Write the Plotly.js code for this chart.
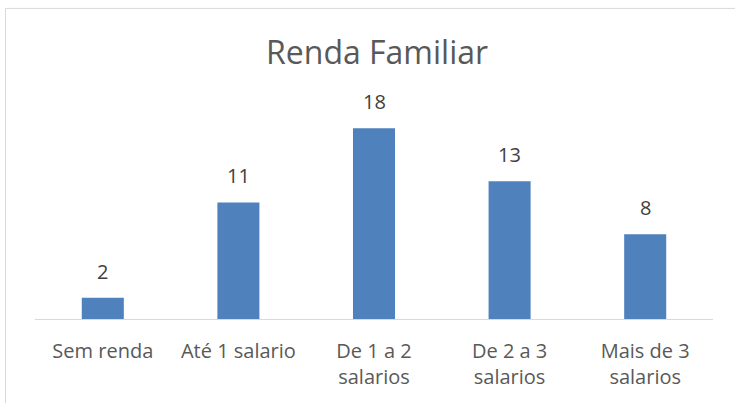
<!DOCTYPE html>
<html>
<head>
<meta charset="utf-8">
<script src="https://cdn.plot.ly/plotly-3.0.1.min.js"></script>
<style>html,body{margin:0;padding:0;background:#fff;}#chart{width:735px;height:403px;}</style>
</head>
<body>
<div id="chart"></div>
<script>
const categories = ["Sem renda", "Até 1 salario", "De 1 a 2<br>salarios", "De 2 a 3<br>salarios", "Mais de 3<br>salarios"];
const values = [2, 11, 18, 13, 8];
const chartTitle = "Renda Familiar";

const font = "Open Sans, Noto Sans, sans-serif";
const textColor = "#595959";

const trace = {
  type: "bar",
  x: categories,
  y: values,
  marker: {color: "#4F81BD"},
  hoverinfo: "none"
};

const annotations = categories.map((c, i) => ({
  x: c, y: values[i], xref: "x", yref: "y",
  text: String(values[i]), showarrow: false,
  yanchor: "bottom", yshift: 11,
  font: {family: font, size: 20, color: "#404040"}
}));

const layout = {
  width: 735, height: 403,
  margin: {l: 35, r: 22, t: 107, b: 84},
  paper_bgcolor: "#fff", plot_bgcolor: "#fff",
  title: {text: chartTitle, x: 0.513, xanchor: "center", y: 0.87, yanchor: "middle",
          font: {family: font, size: 32, color: textColor}},
  bargap: 0.69,
  showlegend: false,
  xaxis: {
    showline: true, linecolor: "#d9d9d9", linewidth: 1,
    ticks: "", showgrid: false, zeroline: false,
    ticklabelstandoff: 14,
    tickfont: {family: font, size: 20, color: textColor},
    fixedrange: true
  },
  yaxis: {range: [0, 20], visible: false, showgrid: false, zeroline: false, fixedrange: true},
  annotations: annotations,
  shapes: [{
    type: "rect", xref: "paper", yref: "paper",
    x0: -0.0435, x1: 1.2, y0: -1, y1: 1.465,
    line: {color: "#d9d9d9", width: 1}, fillcolor: "rgba(0,0,0,0)", layer: "below"
  }]
};

Plotly.newPlot("chart", [trace], layout, {displayModeBar: false, staticPlot: true});
</script>
</body>
</html>
